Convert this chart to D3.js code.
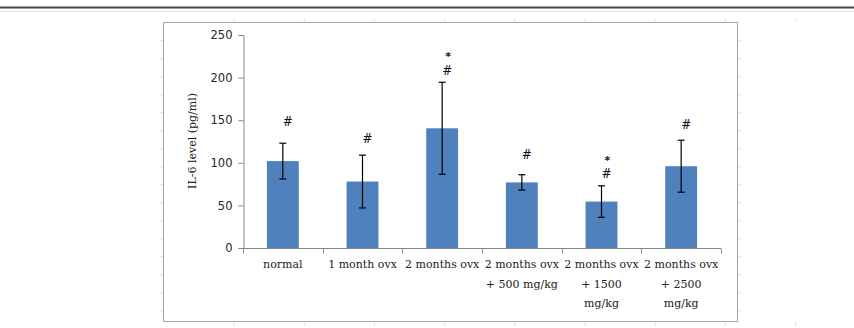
<!DOCTYPE html>
<html><head><meta charset="utf-8">
<script src="https://cdn.jsdelivr.net/npm/d3@7"></script>
<style>body{margin:0;background:#fff}svg{display:block}</style>
</head><body>
<svg id="c" width="854" height="328"></svg>
<script>
const categories = [["normal"],["1 month ovx"],["2 months ovx"],["2 months ovx","+ 500 mg/kg"],["2 months ovx","+ 1500","mg/kg"],["2 months ovx","+ 2500","mg/kg"]];
const values = [102, 78, 140.5, 77, 54.5, 96];
const errors = [21, 31, 54, 9, 18.5, 30.5];
const hashLevels = [148, 129, 208, 110, 88, 145];
const starLevels = [null, null, 226, null, 105, null];
const yTicks = [0, 50, 100, 150, 200, 250];

const svg = d3.select("#c");
// page rule at top
svg.append("line").attr("x1",0).attr("x2",854).attr("y1",7.5).attr("y2",7.5).attr("stroke","#4a4a4a").attr("stroke-width",2);
svg.append("line").attr("x1",0).attr("x2",854).attr("y1",11.5).attr("y2",11.5).attr("stroke","#e4e4e4").attr("stroke-width",1);
// faint spreadsheet grid marks
const gx = d3.range(0,9).map(i=>234+70.2*i);
svg.selectAll(".gv").data(gx).enter().append("line").attr("x1",d=>d).attr("x2",d=>d).attr("y1",19).attr("y2",22).attr("stroke","#e0e0e0");
svg.selectAll(".gv2").data(gx).enter().append("line").attr("x1",d=>d).attr("x2",d=>d).attr("y1",322).attr("y2",326).attr("stroke","#e0e0e0");
const gy = d3.range(0,16).map(i=>40.7+18*i);
svg.selectAll(".gh").data(gy).enter().append("line").attr("x1",160).attr("x2",163).attr("y1",d=>d).attr("y2",d=>d).attr("stroke","#dcdcdc");
svg.selectAll(".gh2").data(gy).enter().append("line").attr("x1",738).attr("x2",741).attr("y1",d=>d).attr("y2",d=>d).attr("stroke","#dcdcdc");
// chart box
svg.append("rect").attr("x",163.5).attr("y",22.5).attr("width",574).attr("height",299).attr("fill","#fff").attr("stroke","#a6a6a6").attr("stroke-width",1);

const x = d3.scaleBand().domain(d3.range(values.length)).range([243,721]).paddingInner(0.6).paddingOuter(0.3);
const y = d3.scaleLinear().domain([0,250]).range([248,35]);

// bars
svg.selectAll(".bar").data(values).enter().append("rect")
  .attr("x",(d,i)=>x(i)).attr("width",x.bandwidth())
  .attr("y",d=>y(d)).attr("height",d=>y(0)-y(d)).attr("fill","#4f81bd");

// y axis
const yAxis = d3.axisLeft(y).tickValues(yTicks).tickSize(5).tickPadding(6);
const ga = svg.append("g").attr("transform","translate(243.5,0)").call(yAxis);
ga.select(".domain").attr("stroke","#868686");
ga.selectAll(".tick line").attr("stroke","#868686");
ga.selectAll(".tick text").attr("font-family","'DejaVu Sans', sans-serif").attr("font-size",11.5).attr("fill","#262626");

// x axis
const xb = d3.scaleLinear().domain([0,values.length]).range([243,721]);
const gxa = svg.append("g").attr("transform","translate(0,248.5)");
gxa.append("line").attr("x1",243).attr("x2",721).attr("stroke","#868686");
gxa.selectAll(".xt").data(d3.range(values.length+1)).enter().append("line")
  .attr("x1",d=>Math.round(xb(d))+0.5).attr("x2",d=>Math.round(xb(d))+0.5).attr("y1",0).attr("y2",5).attr("stroke","#868686");
// x labels
categories.forEach((lines,i)=>{
  const cx = x(i)+x.bandwidth()/2;
  lines.forEach((t,j)=>{
    svg.append("text").attr("x",cx).attr("y",268+j*19.5).attr("text-anchor","middle")
      .attr("font-family","'DejaVu Serif', serif").attr("font-size",11).attr("fill","#222").text(t);
  });
});

// error bars
const eg = svg.append("g").attr("stroke","#000").attr("stroke-width",1.2);
values.forEach((v,i)=>{
  const cx = x(i)+x.bandwidth()/2;
  const t = y(v+errors[i]), b = y(v-errors[i]);
  eg.append("line").attr("x1",cx).attr("x2",cx).attr("y1",t).attr("y2",b);
  eg.append("line").attr("x1",cx-3.5).attr("x2",cx+3.5).attr("y1",t).attr("y2",t);
  eg.append("line").attr("x1",cx-3.5).attr("x2",cx+3.5).attr("y1",b).attr("y2",b);
});

// annotations
hashLevels.forEach((h,i)=>{
  const cx = x(i)+x.bandwidth()/2+5;
  svg.append("text").attr("x",cx).attr("y",y(h)+4.5).attr("text-anchor","middle")
    .attr("font-family","'DejaVu Serif', serif").attr("font-size",12).attr("fill","#111").text("#");
  if(starLevels[i]!=null){
    svg.append("text").attr("x",cx+1).attr("y",y(starLevels[i])+5).attr("text-anchor","middle")
      .attr("font-family","'DejaVu Sans', sans-serif").attr("font-size",11).attr("font-weight","bold").attr("fill","#111").text("*");
  }
});

// y title
svg.append("text").attr("transform","translate(196,141) rotate(-90)").attr("text-anchor","middle")
  .attr("font-family","'DejaVu Serif', serif").attr("font-size",11).attr("fill","#222").text("IL-6 level (pg/ml)");
</script>
</body></html>
